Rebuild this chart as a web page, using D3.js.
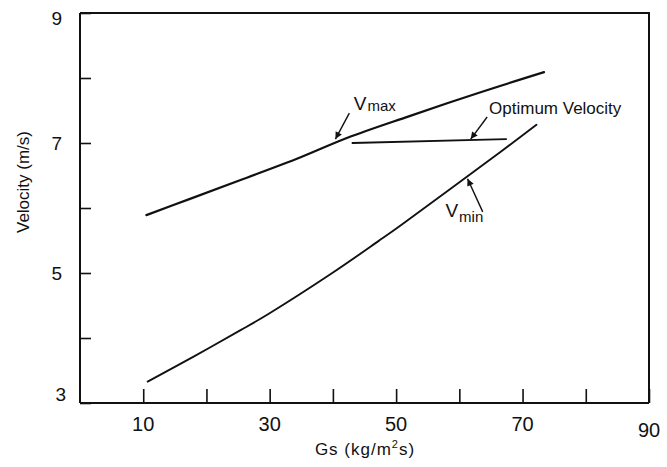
<!DOCTYPE html>
<html>
<head>
<meta charset="utf-8">
<script src="https://cdn.jsdelivr.net/npm/d3@7/dist/d3.min.js"></script>
<style>
  html, body { margin: 0; padding: 0; background: #fff; }
  svg { display: block; }
  text { font-family: "Liberation Sans", Arial, sans-serif; fill: #111; }
  .narrow { font-family: "Liberation Sans Narrow", "Liberation Sans", Arial, sans-serif; }
</style>
</head>
<body>
<svg id="chart" width="667" height="467"></svg>
<script>
// Mass flux Gs (kg/m2 s) against gas velocity (m/s)
const vmaxGs = [10.5, 17.4, 25.4, 34.9, 42.3, 52, 63, 73.4];
const vmaxV  = [5.89, 6.14, 6.43, 6.78, 7.08, 7.41, 7.77, 8.09];

const vminGs = [10.7, 17.9, 25.4, 29.8, 39.9, 47.2, 50.7, 66.6, 72.2];
const vminV  = [3.33, 3.71, 4.12, 4.37, 5.00, 5.49, 5.73, 6.87, 7.28];

const optGs = [43.1, 67.4];
const optV  = [7.00, 7.06];

const xTicks = [10, 20, 30, 40, 50, 60, 70, 80, 90];
const xTickLabels = ["10", "30", "50", "70", "90"];
const yTicks = [3, 4, 5, 6, 7, 8, 9];
const yTickLabels = ["3", "5", "7", "9"];

const svg = d3.select("#chart");
const plotLeft = 80, plotRight = 649, plotTop = 13, plotBottom = 403;

const x = d3.scaleLinear().domain([0, 90]).range([plotLeft, plotRight]);
const y = d3.scaleLinear().domain([3, 9]).range([plotBottom, plotTop]);

// arrowhead marker for the annotation pointers
svg.append("defs").append("marker")
  .attr("id", "arrow")
  .attr("viewBox", "0 0 10 10")
  .attr("refX", 10).attr("refY", 5)
  .attr("markerWidth", 9).attr("markerHeight", 7)
  .attr("markerUnits", "userSpaceOnUse")
  .attr("orient", "auto")
  .append("path").attr("d", "M0,0 L10,5 L0,10 z").attr("fill", "#111");

// frame: top and right edges
svg.append("path")
  .attr("d", `M${plotLeft},${plotTop} H${plotRight} V${plotBottom}`)
  .attr("fill", "none").attr("stroke", "#111").attr("stroke-width", 2);

// bottom axis, ticks pointing into the plot
const xAxis = d3.axisBottom(x).tickValues(xTicks).tickSizeInner(-14).tickSizeOuter(0).tickFormat("");
const gx = svg.append("g").attr("transform", `translate(0,${plotBottom})`).call(xAxis);
gx.select(".domain").attr("stroke", "#111").attr("stroke-width", 2).attr("d", `M${plotLeft},0 H${plotRight}`);
gx.selectAll(".tick line").attr("stroke", "#111").attr("stroke-width", 1.6);

// left axis, ticks pointing into the plot
const yAxis = d3.axisLeft(y).tickValues(yTicks).tickSizeInner(-11).tickSizeOuter(0).tickFormat("");
const gy = svg.append("g").attr("transform", `translate(${plotLeft},0)`).call(yAxis);
gy.select(".domain").attr("stroke", "#111").attr("stroke-width", 2).attr("d", `M0,${plotTop} V${plotBottom}`);
gy.selectAll(".tick line").attr("stroke", "#111").attr("stroke-width", 1.6);

// tick labels
svg.append("g").selectAll("text").data(xTickLabels).join("text")
  .attr("class", "narrow")
  .attr("x", d => x(+d))
  .attr("y", d => +d === 90 ? 437 : 431)
  .attr("text-anchor", "middle")
  .attr("font-size", 20)
  .text(d => d);

svg.append("g").selectAll("text").data(yTickLabels).join("text")
  .attr("class", "narrow")
  .attr("x", d => +d === 3 ? 66 : 62)
  .attr("y", d => Math.min(Math.max(y(+d), plotTop + 5), plotBottom - 9))
  .attr("dy", "0.36em")
  .attr("text-anchor", "end")
  .attr("font-size", 19)
  .text(d => d);

// axis titles
svg.append("text")
  .attr("x", 365).attr("y", 455)
  .attr("text-anchor", "middle")
  .attr("font-size", 17)
  .attr("letter-spacing", 1)
  .call(t => {
    t.append("tspan").text("Gs (kg/m");
    t.append("tspan").attr("font-size", 11).attr("dy", -7).text("2");
    t.append("tspan").attr("dy", 7).text("s)");
  });

svg.append("text")
  .attr("transform", "translate(23,182) rotate(-90)")
  .attr("text-anchor", "middle")
  .attr("dy", "0.36em")
  .attr("font-size", 17)
  .text("Velocity (m/s)");

// curves
const line = d3.line().x(d => x(d[0])).y(d => y(d[1])).curve(d3.curveCatmullRom.alpha(0.5));
const series = [
  { gs: vmaxGs, v: vmaxV, w: 2.2 },
  { gs: vminGs, v: vminV, w: 1.9 },
  { gs: optGs,  v: optV,  w: 1.9 }
];
svg.append("g").selectAll("path").data(series).join("path")
  .attr("d", s => line(s.gs.map((g, i) => [g, s.v[i]])))
  .attr("fill", "none").attr("stroke", "#111")
  .attr("stroke-width", s => s.w)
  .attr("stroke-linecap", "round");

// annotations (data coordinates)
const notes = [
  { label: "V", sub: "max", at: [43.3, 7.51], from: [42.6, 7.46], to: [40.4, 7.06] },
  { label: "Optimum Velocity", sub: "", at: [64.7, 7.44], from: [64.4, 7.40], to: [61.8, 7.06] },
  { label: "V", sub: "min", at: [57.8, 5.86], from: [63.7, 5.94], to: [61.3, 6.45] }
];

svg.append("g").selectAll("line").data(notes).join("line")
  .attr("x1", d => x(d.from[0])).attr("y1", d => y(d.from[1]))
  .attr("x2", d => x(d.to[0])).attr("y2", d => y(d.to[1]))
  .attr("stroke", "#111").attr("stroke-width", 1.4)
  .attr("marker-end", "url(#arrow)");

svg.append("g").selectAll("text").data(notes).join("text")
  .attr("x", d => x(d.at[0])).attr("y", d => y(d.at[1]))
  .attr("font-size", d => d.sub ? 19 : 17)
  .each(function (d) {
    const t = d3.select(this);
    t.append("tspan").text(d.label);
    if (d.sub) t.append("tspan").attr("font-size", 15).attr("dx", 1).attr("dy", d.sub === "min" ? 5 : 1).text(d.sub);
  });
</script>
</body>
</html>
